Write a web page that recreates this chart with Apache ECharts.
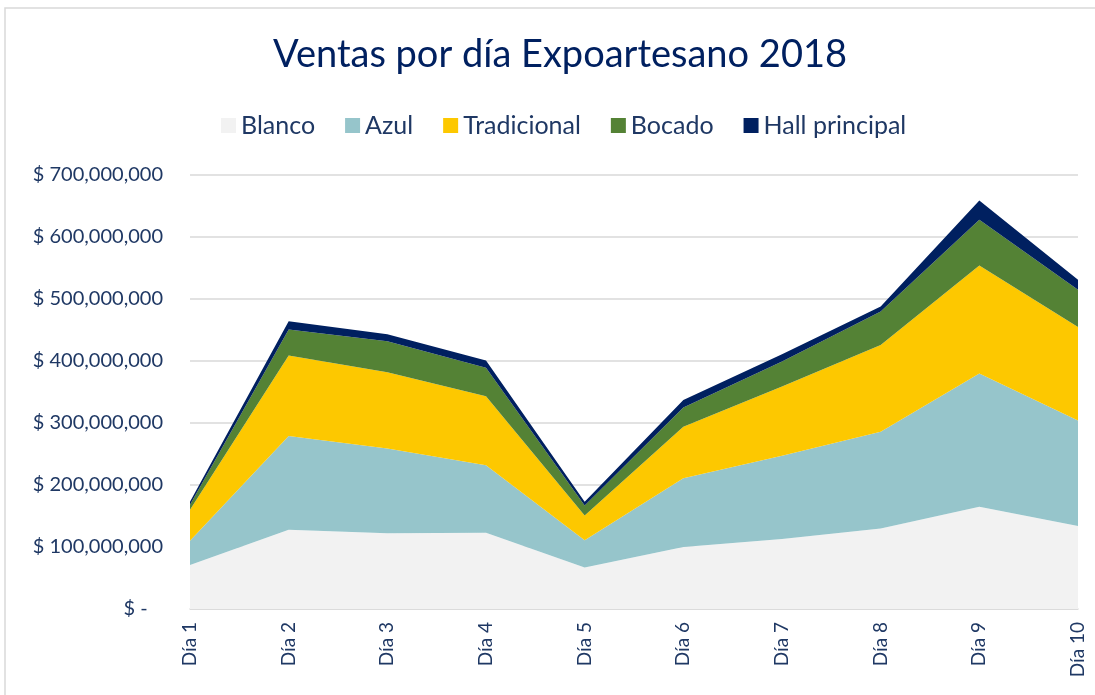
<!DOCTYPE html>
<html lang="es">
<head>
    <meta charset="UTF-8">
    <title>Ventas por día Expoartesano 2018</title>
    <script src="https://cdn.jsdelivr.net/npm/echarts@6/dist/echarts.min.js"></script>
    <style>
        html, body { margin: 0; padding: 0; background: #fff; }
        #chart { width: 1095px; height: 695px; }
    </style>
</head>
<body>
    <div id="chart"></div>
    <script>
        var dias = ['Día 1', 'Día 2', 'Día 3', 'Día 4', 'Día 5', 'Día 6', 'Día 7', 'Día 8', 'Día 9', 'Día 10'];
        var blanco      = [71000000, 128000000, 122000000, 123000000, 67000000, 100000000, 113000000, 130000000, 165000000, 134000000];
        var azul        = [39000000, 151000000, 137000000, 109000000, 44000000, 111000000, 134000000, 156000000, 215000000, 170000000];
        var tradicional = [50000000, 130000000, 123000000, 111000000, 40000000, 83000000, 112000000, 140000000, 174000000, 151000000];
        var bocado      = [8000000, 42000000, 50000000, 46000000, 16000000, 31000000, 40000000, 54000000, 74000000, 60000000];
        var hall        = [5000000, 13000000, 11000000, 12000000, 6000000, 12000000, 12000000, 8000000, 31000000, 16000000];

        var textColor = '#1f3864';
        var font = 'Lato';

        var myChart = echarts.init(document.getElementById('chart'));

        function area(name, data, color) {
            return {
                name: name,
                type: 'line',
                stack: 'total',
                data: data,
                showSymbol: false,
                lineStyle: { width: 0 },
                areaStyle: { color: color, opacity: 1 },
                itemStyle: { color: color },
                emphasis: { disabled: true }
            };
        }

        var option = {
            animation: false,
            textStyle: { fontFamily: font },
            title: {
                text: 'Ventas por día Expoartesano 2018',
                left: 555,
                textAlign: 'center',
                top: 31,
                textStyle: { color: '#002060', fontSize: 38, fontWeight: 'normal', fontFamily: font }
            },
            legend: {
                top: 108,
                left: 216,
                icon: 'rect',
                itemWidth: 15,
                itemHeight: 15,
                itemGap: 30,
                textStyle: { color: textColor, fontSize: 25, fontFamily: font },
                data: ['Blanco', 'Azul', 'Tradicional', 'Bocado', 'Hall principal']
            },
            grid: { left: 190, right: 17, top: 175, bottom: 86 },
            xAxis: {
                type: 'category',
                data: dias,
                boundaryGap: false,
                axisLine: { lineStyle: { color: '#d9d9d9', width: 1.5 } },
                axisTick: { show: false },
                axisLabel: { rotate: 90, color: textColor, fontSize: 19, margin: 13, fontFamily: font }
            },
            yAxis: {
                type: 'value',
                min: 0,
                max: 700000000,
                interval: 100000000,
                axisLine: { show: false },
                axisTick: { show: false },
                splitLine: { lineStyle: { color: '#d9d9d9', width: 1.5 } },
                axisLabel: {
                    color: textColor,
                    fontSize: 20,
                    margin: 27,
                    fontFamily: font,
                    formatter: function (v) {
                        return v === 0 ? '$ -   ' : '$ ' + v.toLocaleString('en-US');
                    }
                }
            },
            graphic: [{
                type: 'rect',
                shape: { x: 5, y: 8, width: 1100, height: 700 },
                style: { fill: 'none', stroke: '#d9d9d9', lineWidth: 1.5 },
                silent: true
            }],
            series: [
                area('Blanco', blanco, '#f2f2f2'),
                area('Azul', azul, '#96c5cb'),
                area('Tradicional', tradicional, '#fdc800'),
                area('Bocado', bocado, '#548235'),
                area('Hall principal', hall, '#002060')
            ]
        };

        myChart.setOption(option);
    </script>
</body>
</html>
